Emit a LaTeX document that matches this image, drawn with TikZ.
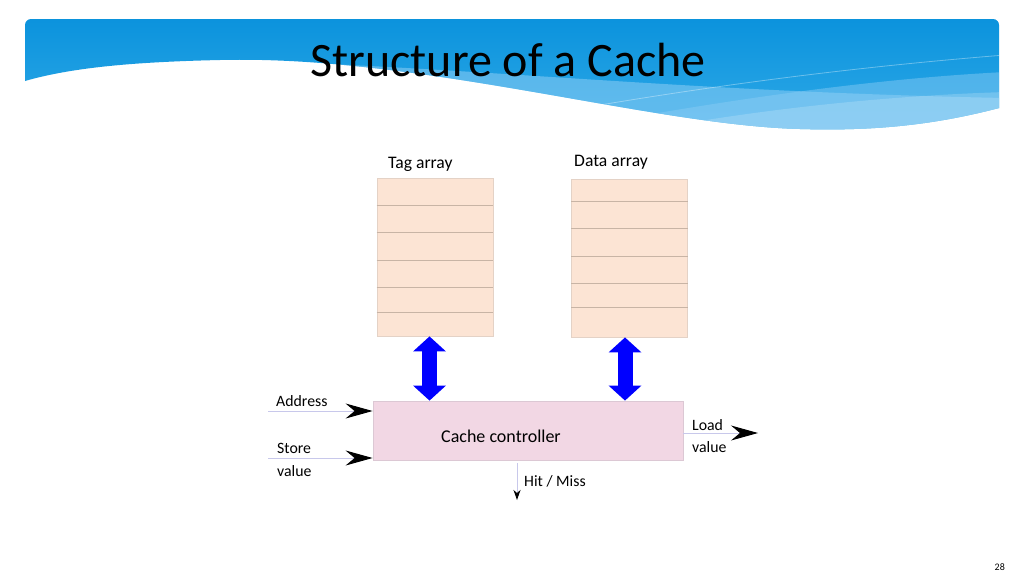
\documentclass[tikz,border=0pt]{standalone}
\usepackage{fontspec}
\setmainfont{Carlito}
\usetikzlibrary{arrows.meta}
\definecolor{bandtop}{RGB}{10,146,220}
\definecolor{bandbot}{RGB}{48,170,232}
\definecolor{lightband}{RGB}{140,205,245}
\definecolor{peach}{RGB}{252,228,212}
\definecolor{peachline}{RGB}{200,180,165}
\definecolor{peachborder}{RGB}{228,210,198}
\definecolor{ctrlpink}{RGB}{242,215,228}
\definecolor{ctrlborder}{RGB}{220,200,212}
\definecolor{wire}{RGB}{200,200,235}
\definecolor{bigblue}{RGB}{0,0,255}
\tikzset{
  arraybox/.style={draw=peachborder, fill=peach, line width=0.8pt, minimum width=116pt, minimum height=158pt, inner sep=0pt},
  ctrlbox/.style={draw=ctrlborder, fill=ctrlpink, line width=0.8pt, minimum width=310pt, minimum height=59pt, inner sep=0pt},
  rowline/.style={draw=peachline, line width=0.6pt},
  lbl/.style={font=\fontsize{15.8}{18}\selectfont, anchor=base west, inner sep=0pt},
  biglbl/.style={font=\fontsize{17.6}{20}\selectfont, anchor=base west, inner sep=0pt},
  wirearrow/.style={draw=wire, line width=1pt, -{Stealth[length=27pt,width=15pt,inset=9pt,color=black,fill=black]}},
  smallarrow/.style={draw=wire, line width=1pt, -{Stealth[length=10pt,width=7pt,inset=3pt,color=black,fill=black]}},
  dblarrow/.style={draw=bigblue, line width=15pt, {Triangle[length=15pt,width=32pt]}-{Triangle[length=15pt,width=32pt]}},
}
\begin{document}
\begin{tikzpicture}[x=1pt,y=-1pt]
\useasboundingbox (0,0) rectangle (1024,576);
\fill[white] (0,0) rectangle (1024,576);
% header band
\begin{scope}
\clip (25,81) -- (25,25) .. controls (25,21.7) and (27.7,19) .. (31,19) -- (993,19) .. controls (996.3,19) and (999,21.7) .. (999,25) -- (999,108)
  .. controls (930,126) and (870,131) .. (800,129) .. controls (650,125) and (420,55) .. (220,60) .. controls (130,62) and (70,68) .. (25,81) -- cycle;
\shade[top color=bandtop, bottom color=bandbot] (20,15) rectangle (1005,135);
\fill[lightband, opacity=0.55] (280,62) .. controls (500,70) and (700,92) .. (1005,98) -- (1005,140) -- (280,140) -- cycle;
\fill[lightband, opacity=0.45] (560,130) .. controls (700,105) and (850,80) .. (1005,72) -- (1005,140) -- cycle;
\fill[white, opacity=0.18] (620,135) .. controls (750,110) and (880,96) .. (1005,92) -- (1005,140) -- cycle;
\draw[white, opacity=0.35, line width=0.8pt] (600,105) .. controls (750,80) and (880,65) .. (1005,55);
\end{scope}
\node[font=\fontsize{48}{56}\selectfont, anchor=base, inner sep=0pt] (title) at (508,76) {Structure of a Cache};
% arrays
\node[arraybox] (tag) at (435,257) {};
\node[arraybox] (data) at (629.5,258) {};
\foreach \y in {205,232,260,287,312} \draw[rowline] (tag.west |- 0,\y) -- (tag.east |- 0,\y);
\foreach \y in {201,228,256,283,307} \draw[rowline] (data.west |- 0,\y) -- (data.east |- 0,\y);
\node[biglbl] (taglbl) at (388,168) {Tag array};
\node[biglbl] (datalbl) at (574,166) {Data array};
% controller
\node[ctrlbox] (ctrl) at (528,430.5) {};
\node[font=\fontsize{18}{21}\selectfont, anchor=base west, inner sep=0pt] (ctrllbl) at (441,442) {Cache controller};
% double arrows
\draw[dblarrow] (tag.south -| 429.5,0) -- (ctrl.north -| 429.5,0);
\draw[dblarrow] (data.south -| 625,0) -- (ctrl.north -| 625,0);
% inputs
\coordinate (addrS) at (268,411);
\coordinate (storeS) at (268,458);
\coordinate (loadE) at (758,433);
\coordinate (hitE) at (517,500);
\draw[wirearrow] (addrS) -- (addrS -| ctrl.west);
\draw[wirearrow] (storeS) -- (storeS -| ctrl.west);
\draw[wirearrow] (loadE -| ctrl.east) -- (loadE);
\draw[smallarrow] (ctrl.south -| hitE) ++(0,3) -- (hitE);
\node[lbl] (addrlbl) at (276,406) {Address};
\node[lbl] (storelbl) at (277,453) {Store};
\node[lbl] (storelbl2) at (277,476) {value};
\node[lbl] (loadlbl) at (692,430) {Load};
\node[lbl] (loadlbl2) at (692,452) {value};
\node[lbl] (hitlbl) at (524,486) {Hit / Miss};
\node[font=\fontsize{10}{12}\selectfont, anchor=base east, inner sep=0pt] (pagenum) at (1005,570) {28};
\end{tikzpicture}
\end{document}
